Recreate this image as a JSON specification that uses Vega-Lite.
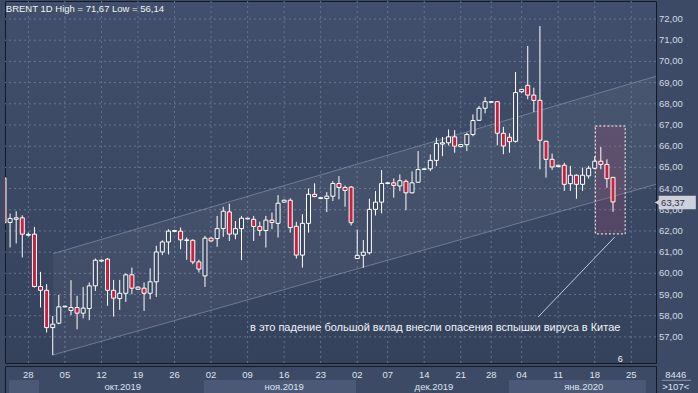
{
  "$schema": "https://vega.github.io/schema/vega-lite/v6.json",
  "background": "#3c4a66",
  "padding": {"left": 4, "top": 0, "right": 3, "bottom": 3},
  "spacing": 0,
  "config": {
    "view": {"stroke": "#131926", "strokeWidth": 1, "fill": "#3c4a66"},
    "font": "Liberation Sans",
    "text": {"font": "Liberation Sans"}
  },
  "datasets": {
    "candles": [
      {"i":1,"o":64.5,"h":64.6,"l":62.3,"c":62.39},
      {"i":2,"o":62.40,"h":62.82,"l":61.22,"c":62.59},
      {"i":3,"o":62.55,"h":62.93,"l":61.41,"c":62.62},
      {"i":4,"o":62.62,"h":62.74,"l":60.75,"c":61.85},
      {"i":5,"o":61.80,"h":61.92,"l":61.74,"c":61.84},
      {"i":6,"o":61.85,"h":62.19,"l":59.33,"c":59.38},
      {"i":7,"o":59.38,"h":60.07,"l":58.39,"c":59.2},
      {"i":8,"o":59.2,"h":59.49,"l":57.21,"c":57.44},
      {"i":9,"o":57.44,"h":57.99,"l":56.14,"c":57.6},
      {"i":10,"o":57.65,"h":58.98,"l":57.6,"c":58.42},
      {"i":11,"o":58.42,"h":58.47,"l":58.40,"c":58.45},
      {"i":12,"o":58.25,"h":59.68,"l":58.03,"c":58.39},
      {"i":13,"o":58.39,"h":58.94,"l":57.36,"c":58.12},
      {"i":14,"o":58.12,"h":59.36,"l":57.87,"c":58.36},
      {"i":15,"o":58.34,"h":59.57,"l":57.79,"c":59.41},
      {"i":16,"o":59.41,"h":60.70,"l":59.17,"c":60.62},
      {"i":17,"o":60.58,"h":60.65,"l":60.55,"c":60.62},
      {"i":18,"o":60.67,"h":60.73,"l":58.47,"c":59.2},
      {"i":19,"o":59.2,"h":59.69,"l":57.96,"c":58.83},
      {"i":20,"o":58.81,"h":59.69,"l":58.28,"c":59.06},
      {"i":21,"o":59.06,"h":60.0,"l":58.65,"c":59.93},
      {"i":22,"o":59.93,"h":60.27,"l":59.02,"c":59.3},
      {"i":23,"o":59.25,"h":59.38,"l":59.22,"c":59.35},
      {"i":24,"o":59.3,"h":59.57,"l":58.23,"c":59.06},
      {"i":25,"o":59.06,"h":60.24,"l":58.78,"c":59.6},
      {"i":26,"o":59.6,"h":61.3,"l":58.89,"c":61.01},
      {"i":27,"o":61.01,"h":61.56,"l":60.86,"c":61.48},
      {"i":28,"o":61.48,"h":62.08,"l":60.89,"c":61.99},
      {"i":29,"o":61.98,"h":62.05,"l":61.96,"c":62.02},
      {"i":30,"o":61.99,"h":62.16,"l":61.14,"c":61.58},
      {"i":31,"o":61.55,"h":61.69,"l":60.64,"c":61.58},
      {"i":32,"o":61.56,"h":61.61,"l":60.43,"c":60.54},
      {"i":33,"o":60.54,"h":60.65,"l":60.04,"c":60.2},
      {"i":34,"o":59.88,"h":61.77,"l":59.36,"c":61.66},
      {"i":35,"o":61.66,"h":61.70,"l":61.50,"c":61.53},
      {"i":36,"o":61.64,"h":62.71,"l":61.25,"c":62.11},
      {"i":37,"o":62.11,"h":63.14,"l":61.72,"c":62.93},
      {"i":38,"o":62.9,"h":63.29,"l":61.53,"c":61.85},
      {"i":39,"o":61.85,"h":62.47,"l":61.61,"c":62.11},
      {"i":40,"o":62.11,"h":62.71,"l":60.62,"c":62.6},
      {"i":41,"o":62.57,"h":62.62,"l":62.55,"c":62.6},
      {"i":42,"o":62.55,"h":62.71,"l":61.53,"c":62.21},
      {"i":43,"o":62.21,"h":62.44,"l":61.77,"c":62.02},
      {"i":44,"o":62.02,"h":62.71,"l":61.22,"c":62.51},
      {"i":45,"o":62.51,"h":62.87,"l":62.08,"c":62.4},
      {"i":46,"o":62.36,"h":63.69,"l":61.69,"c":63.31},
      {"i":47,"o":63.36,"h":63.48,"l":63.34,"c":63.45},
      {"i":48,"o":63.45,"h":63.54,"l":61.92,"c":62.16},
      {"i":49,"o":62.22,"h":62.43,"l":60.7,"c":60.86},
      {"i":50,"o":60.86,"h":62.79,"l":60.27,"c":62.36},
      {"i":51,"o":62.36,"h":64.0,"l":61.92,"c":63.73},
      {"i":52,"o":63.73,"h":64.25,"l":63.6,"c":63.62},
      {"i":53,"o":63.53,"h":63.60,"l":63.50,"c":63.57},
      {"i":54,"o":63.53,"h":63.83,"l":62.89,"c":63.64},
      {"i":55,"o":63.64,"h":64.35,"l":63.41,"c":64.24},
      {"i":56,"o":64.24,"h":64.59,"l":63.49,"c":64.05},
      {"i":57,"o":64.05,"h":64.15,"l":63.14,"c":63.91},
      {"i":58,"o":64.07,"h":64.12,"l":62.26,"c":62.39},
      {"i":59,"o":60.70,"h":62.07,"l":60.70,"c":60.85},
      {"i":60,"o":60.85,"h":61.57,"l":60.26,"c":61.0},
      {"i":61,"o":60.97,"h":63.52,"l":60.89,"c":63.02},
      {"i":62,"o":63.02,"h":63.88,"l":62.73,"c":63.36},
      {"i":63,"o":63.36,"h":64.87,"l":62.83,"c":64.24},
      {"i":64,"o":64.24,"h":64.3,"l":64.2,"c":64.27},
      {"i":65,"o":64.27,"h":64.48,"l":63.57,"c":64.15},
      {"i":66,"o":64.12,"h":64.67,"l":63.88,"c":64.37},
      {"i":67,"o":64.34,"h":64.43,"l":62.98,"c":63.8},
      {"i":68,"o":63.8,"h":64.81,"l":63.77,"c":64.27},
      {"i":69,"o":64.3,"h":65.77,"l":64.27,"c":64.9},
      {"i":70,"o":64.9,"h":64.96,"l":64.88,"c":64.93},
      {"i":71,"o":64.93,"h":65.61,"l":64.82,"c":65.33},
      {"i":72,"o":65.33,"h":66.4,"l":65.06,"c":66.13},
      {"i":73,"o":66.1,"h":66.43,"l":65.53,"c":66.16},
      {"i":74,"o":66.16,"h":66.79,"l":66.03,"c":66.44},
      {"i":75,"o":66.44,"h":66.76,"l":65.69,"c":66.0},
      {"i":76,"o":65.98,"h":66.1,"l":65.95,"c":66.08},
      {"i":77,"o":66.07,"h":66.63,"l":65.77,"c":66.55},
      {"i":78,"o":66.55,"h":67.5,"l":66.47,"c":67.21},
      {"i":79,"o":67.22,"h":67.9,"l":67.2,"c":67.79},
      {"i":80,"o":67.79,"h":68.32,"l":67.55,"c":68.1},
      {"i":81,"o":68.07,"h":68.12,"l":68.05,"c":68.1},
      {"i":82,"o":68.1,"h":68.13,"l":66.04,"c":66.61},
      {"i":83,"o":66.61,"h":66.91,"l":65.62,"c":66.01},
      {"i":84,"o":66.42,"h":66.61,"l":65.69,"c":66.21},
      {"i":85,"o":66.23,"h":69.5,"l":66.17,"c":68.53},
      {"i":86,"o":68.57,"h":68.7,"l":68.5,"c":68.68},
      {"i":87,"o":68.87,"h":70.73,"l":68.21,"c":68.41},
      {"i":88,"o":68.41,"h":68.76,"l":67.61,"c":68.16},
      {"i":89,"o":68.16,"h":71.67,"l":64.91,"c":66.28},
      {"i":90,"o":66.23,"h":66.26,"l":64.52,"c":65.38},
      {"i":91,"o":65.38,"h":65.65,"l":64.88,"c":65.02},
      {"i":92,"o":65.04,"h":65.12,"l":65.0,"c":65.1},
      {"i":93,"o":65.1,"h":65.22,"l":63.89,"c":64.2},
      {"i":94,"o":64.23,"h":65.07,"l":63.89,"c":64.63},
      {"i":95,"o":64.63,"h":64.67,"l":63.52,"c":64.2},
      {"i":96,"o":64.2,"h":64.99,"l":63.89,"c":64.63},
      {"i":97,"o":64.6,"h":65.07,"l":64.47,"c":64.96},
      {"i":98,"o":64.96,"h":65.51,"l":64.91,"c":65.29},
      {"i":99,"o":65.29,"h":65.96,"l":64.91,"c":65.14},
      {"i":100,"o":65.14,"h":65.38,"l":64.04,"c":64.47},
      {"i":101,"o":64.53,"h":64.53,"l":62.9,"c":63.37}
    ],
    "channel": [
      {"i": 9.05, "top": 60.93, "bot": 56.15},
      {"i": 108.06, "top": 69.3, "bot": 64.2}
    ],
    "box": [{"x1": 98.1, "x2": 103.0, "y1": 66.95, "y2": 61.86}],
    "prices": [
      {"p":57,"t":"57,00"},{"p":58,"t":"58,00"},{"p":59,"t":"59,00"},{"p":60,"t":"60,00"},
      {"p":61,"t":"61,00"},{"p":62,"t":"62,00"},{"p":63,"t":"63,00"},{"p":64,"t":"64,00"},
      {"p":65,"t":"65,00"},{"p":66,"t":"66,00"},{"p":67,"t":"67,00"},{"p":68,"t":"68,00"},
      {"p":69,"t":"69,00"},{"p":70,"t":"70,00"},{"p":71,"t":"71,00"},{"p":72,"t":"72,00"}
    ],
    "days": [
      {"i":5,"label":"28"},{"i":11,"label":"05"},{"i":17,"label":"12"},{"i":23,"label":"19"},
      {"i":29,"label":"26"},{"i":35,"label":"02"},{"i":41,"label":"09"},{"i":47,"label":"16"},
      {"i":53,"label":"23"},{"i":59,"label":"02"},{"i":64,"label":"07"},{"i":70,"label":"14"},
      {"i":76,"label":"21"},{"i":81,"label":"28"},{"i":86,"label":"04"},{"i":92,"label":"11"},
      {"i":98,"label":"18"},{"i":104,"label":"25"}
    ],
    "monthBands": [
      {"start": 1.82, "end": 6.75},
      {"start": 33.8, "end": 58.8},
      {"start": 83.9, "end": 106.4}
    ],
    "monthLabels": [
      {"i": 20.5, "label": "окт.2019"},
      {"i": 47.0, "label": "ноя.2019"},
      {"i": 71.6, "label": "дек.2019"},
      {"i": 96.2, "label": "янв.2020"}
    ]
  },
  "vconcat": [
    {
      "width": 651,
      "height": 362,
      "view": {
        "stroke": "#131926",
        "fill": {"gradient": "linear", "x1": 0, "y1": 0, "x2": 0, "y2": 1,
          "stops": [{"offset": 0, "color": "#414f6c"}, {"offset": 1, "color": "#35425c"}]}
      },
      "layer": [
        {
          "data": {"name": "prices"},
          "mark": {"type": "rule", "color": "#64748f", "strokeWidth": 1, "strokeDash": [2, 3]},
          "encoding": {
            "y": {"field": "p", "type": "quantitative", "scale": {"domain": [55.77, 72.85], "nice": false, "zero": false, "padding": 0}, "axis": null}
          }
        },
        {
          "data": {"name": "days"},
          "mark": {"type": "rule", "color": "#64748f", "strokeWidth": 1, "strokeDash": [2, 3]},
          "encoding": {
            "x": {"field": "i", "type": "quantitative", "scale": {"domain": [1.164, 108.06], "nice": false, "zero": false, "padding": 0}, "axis": null}
          }
        },
        {
          "data": {"name": "channel"},
          "mark": {"type": "area", "color": "#ffffff", "opacity": 0.05},
          "encoding": {
            "x": {"field": "i", "type": "quantitative", "axis": null},
            "y": {"field": "top", "type": "quantitative", "axis": null},
            "y2": {"field": "bot"}
          }
        },
        {
          "data": {"name": "channel"},
          "mark": {"type": "line", "color": "#8f9bb2", "opacity": 0.6, "strokeWidth": 1},
          "encoding": {
            "x": {"field": "i", "type": "quantitative", "axis": null},
            "y": {"field": "top", "type": "quantitative", "axis": null}
          }
        },
        {
          "data": {"name": "channel"},
          "mark": {"type": "line", "color": "#8f9bb2", "opacity": 0.6, "strokeWidth": 1},
          "encoding": {
            "x": {"field": "i", "type": "quantitative", "axis": null},
            "y": {"field": "bot", "type": "quantitative", "axis": null}
          }
        },
        {
          "data": {"name": "box"},
          "mark": {"type": "rect", "fill": "#b04a72", "fillOpacity": 0.22, "stroke": "#ffffff", "strokeWidth": 1, "strokeDash": [2, 2]},
          "encoding": {
            "x": {"field": "x1", "type": "quantitative", "axis": null},
            "x2": {"field": "x2"},
            "y": {"field": "y1", "type": "quantitative", "axis": null},
            "y2": {"field": "y2"}
          }
        },
        {
          "data": {"name": "candles"},
          "mark": {"type": "rule", "color": "#ffffff", "strokeWidth": 1, "clip": true},
          "encoding": {
            "x": {"field": "i", "type": "quantitative", "axis": null},
            "y": {"field": "l", "type": "quantitative", "axis": null},
            "y2": {"field": "h"}
          }
        },
        {
          "data": {"name": "candles"},
          "mark": {"type": "bar", "width": 4, "stroke": "#ffffff", "strokeWidth": 1, "clip": true},
          "encoding": {
            "x": {"field": "i", "type": "quantitative", "axis": null},
            "y": {"field": "o", "type": "quantitative", "axis": null},
            "y2": {"field": "c"},
            "fill": {"condition": {"test": "datum.c < datum.o", "value": "#c8203e"}, "value": "#3a4762"}
          }
        },
        {
          "data": {"name": "prices"},
          "mark": {"type": "text", "align": "left", "baseline": "middle", "fontSize": 9.5, "color": "#d3d9e4"},
          "encoding": {
            "x": {"datum": 108.55, "type": "quantitative", "axis": null},
            "y": {"field": "p", "type": "quantitative", "axis": null},
            "text": {"field": "t"}
          }
        },
        {
          "data": {"values": [{}]},
          "mark": {"type": "rule", "color": "#c3c9d5", "strokeWidth": 1},
          "encoding": {
            "x": {"datum": 101.3, "type": "quantitative", "axis": null},
            "y": {"datum": 61.72, "type": "quantitative", "axis": null},
            "x2": {"datum": 88.7},
            "y2": {"datum": 57.94}
          }
        },
        {
          "data": {"values": [{"t": "в это падение большой вклад внесли опасения вспышки вируса в Китае"}]},
          "mark": {"type": "text", "align": "left", "baseline": "middle", "fontSize": 11, "color": "#f0f3f8"},
          "encoding": {
            "x": {"datum": 41.4, "type": "quantitative", "axis": null},
            "y": {"datum": 57.42, "type": "quantitative", "axis": null},
            "text": {"field": "t"}
          }
        },
        {
          "data": {"values": [{"t": "BRENT 1D High = 71,67 Low = 56,14"}]},
          "mark": {"type": "text", "align": "left", "baseline": "middle", "fontSize": 9.5, "color": "#f0f3f8"},
          "encoding": {
            "x": {"datum": 1.3, "type": "quantitative", "axis": null},
            "y": {"datum": 72.48, "type": "quantitative", "axis": null},
            "text": {"field": "t"}
          }
        },
        {
          "data": {"values": [{"t": "6"}]},
          "mark": {"type": "text", "align": "center", "baseline": "middle", "fontSize": 9, "color": "#f0f3f8"},
          "encoding": {
            "x": {"datum": 102.2, "type": "quantitative", "axis": null},
            "y": {"datum": 55.97, "type": "quantitative", "axis": null},
            "text": {"field": "t"}
          }
        },
        {
          "data": {"values": [{}]},
          "mark": {"type": "rect", "fill": "#cdd1d9"},
          "encoding": {
            "x": {"datum": 108.5, "type": "quantitative", "axis": null},
            "x2": {"datum": 114.6},
            "y": {"datum": 63.66, "type": "quantitative", "axis": null},
            "y2": {"datum": 63.03}
          }
        },
        {
          "data": {"values": [{}]},
          "mark": {"type": "point", "shape": "triangle-left", "filled": true, "color": "#cdd1d9", "size": 40, "opacity": 1},
          "encoding": {
            "x": {"datum": 108.3, "type": "quantitative", "axis": null},
            "y": {"datum": 63.345, "type": "quantitative", "axis": null}
          }
        },
        {
          "data": {"values": [{"t": "63,37"}]},
          "mark": {"type": "text", "align": "left", "baseline": "middle", "fontSize": 9.5, "color": "#2b3446"},
          "encoding": {
            "x": {"datum": 108.9, "type": "quantitative", "axis": null},
            "y": {"datum": 63.34, "type": "quantitative", "axis": null},
            "text": {"field": "t"}
          }
        }
      ]
    },
    {
      "width": 651,
      "height": 28,
      "layer": [
        {
          "data": {"name": "monthBands"},
          "mark": {"type": "rect", "fill": "#4b5976"},
          "encoding": {
            "x": {"field": "start", "type": "quantitative", "scale": {"domain": [1.164, 108.06], "nice": false, "zero": false, "padding": 0}, "axis": null},
            "x2": {"field": "end"},
            "y": {"datum": 0, "type": "quantitative", "scale": {"domain": [0, 2], "nice": false, "padding": 0}, "axis": null},
            "y2": {"datum": 1}
          }
        },
        {
          "data": {"name": "days"},
          "mark": {"type": "text", "align": "center", "baseline": "middle", "fontSize": 9.5, "color": "#dde3ee"},
          "encoding": {
            "x": {"field": "i", "type": "quantitative", "axis": null},
            "y": {"datum": 1.35, "type": "quantitative", "axis": null},
            "text": {"field": "label"}
          }
        },
        {
          "data": {"name": "monthLabels"},
          "mark": {"type": "text", "align": "center", "baseline": "middle", "fontSize": 9.5, "color": "#dde3ee"},
          "encoding": {
            "x": {"field": "i", "type": "quantitative", "axis": null},
            "y": {"datum": 0.5, "type": "quantitative", "axis": null},
            "text": {"field": "label"}
          }
        },
        {
          "data": {"values": [{"t": "8446", "r": 1.35}, {"t": ">107<", "r": 0.5}]},
          "mark": {"type": "text", "align": "center", "baseline": "middle", "fontSize": 9.5, "color": "#dde3ee"},
          "encoding": {
            "x": {"datum": 111.3, "type": "quantitative", "axis": null},
            "y": {"field": "r", "type": "quantitative", "axis": null},
            "text": {"field": "t"}
          }
        },
        {
          "data": {"values": [{}]},
          "mark": {"type": "rule", "color": "#8a94a8", "strokeWidth": 1},
          "encoding": {
            "x": {"datum": 109.0, "type": "quantitative", "axis": null},
            "x2": {"datum": 113.8},
            "y": {"datum": 0.98, "type": "quantitative", "axis": null}
          }
        }
      ]
    }
  ]
}
